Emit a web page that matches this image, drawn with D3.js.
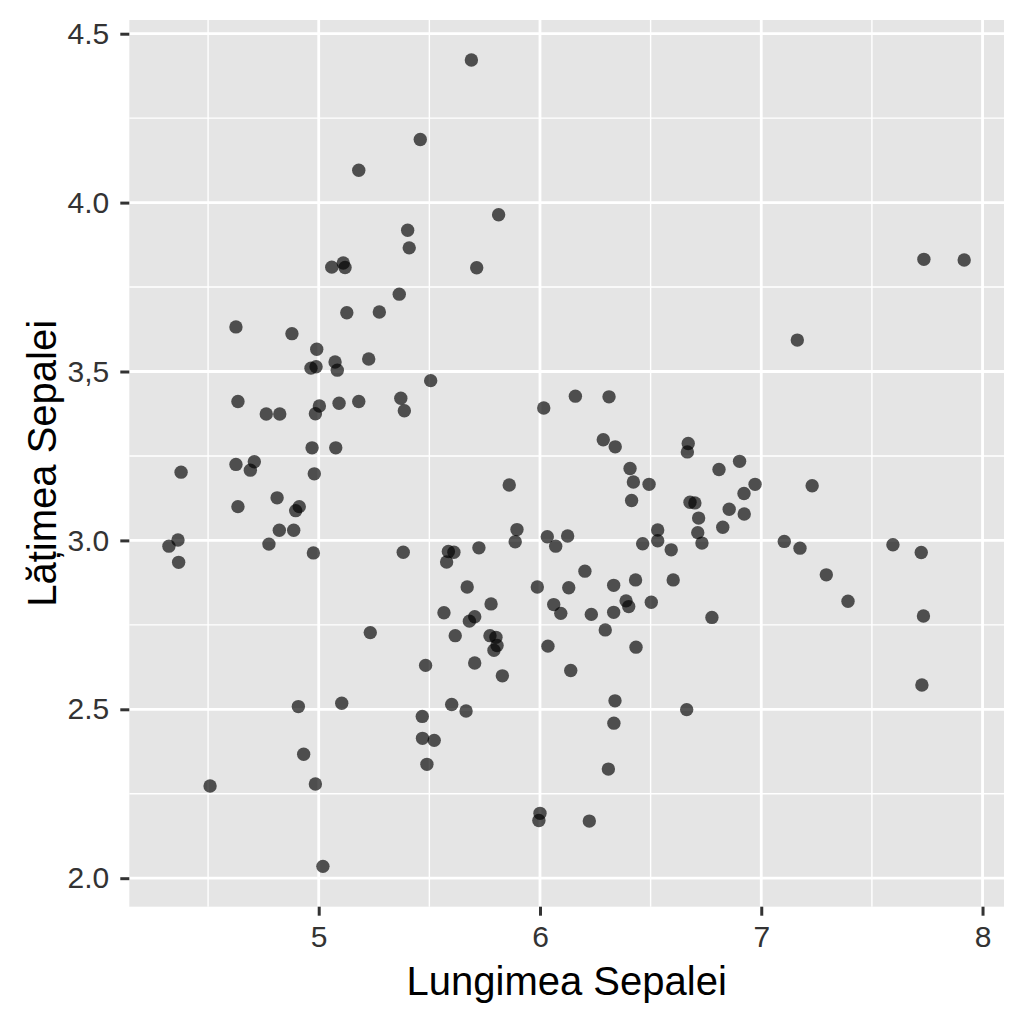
<!DOCTYPE html>
<html lang="ro">
<head>
    <meta charset='utf-8'>
    <title>Lungimea vs Lățimea Sepalei</title>
    <style>
        body { margin: 0; background: #fff; }
        svg { display: block; }
    </style>
</head>
<body>
<svg></svg>
<script src="https://cdn.jsdelivr.net/npm/d3@7"></script>
<script>
    // values (jittered iris sepals)
    const sepalLength = [
        5.459, 5.181, 5.402, 5.409, 5.059, 5.111, 5.119, 5.364, 5.127, 5.274,
        5.690, 5.813, 5.714,
        4.626, 4.879, 4.991, 4.965, 4.988, 5.074, 5.084, 5.226, 5.506, 4.635, 4.763,
        4.824, 5.003, 4.985, 5.092, 5.181, 5.371, 5.387, 4.970, 5.077, 4.378, 4.626,
        4.709, 4.691, 4.980, 4.812, 4.912, 4.896, 4.635, 4.822, 4.887, 4.364, 4.323,
        4.775, 4.976, 5.382, 4.367,
        6.160, 6.312, 6.017, 6.286, 6.340, 6.670, 6.666, 6.407, 6.809, 6.422, 6.493,
        5.861, 6.414, 6.678, 6.700, 6.855, 6.717, 6.826, 5.896, 5.888, 6.033, 6.125,
        6.071, 6.532, 6.532, 6.713, 6.732, 6.464, 6.593, 5.724, 5.586, 5.611, 5.578,
        6.203, 6.432, 6.602, 5.671, 5.988, 6.130, 6.333,
        7.735, 7.917, 7.163, 6.902, 6.972, 6.922, 6.923, 7.230,
        5.233, 4.908, 5.104, 4.932, 4.985, 4.509, 5.019, 5.483, 5.468, 5.469, 5.489,
        5.566, 5.705, 5.681, 5.779, 6.062, 6.094, 6.232, 6.333, 6.389, 6.401, 6.503,
        6.777, 6.295, 5.617, 5.774, 5.801, 5.806, 5.792, 6.036, 6.434, 5.705, 5.830,
        6.139, 5.601, 5.666, 6.339, 6.663, 5.522, 6.334, 6.309, 6.000, 5.995, 6.223,
        7.104, 7.175, 7.294, 7.392, 7.595, 7.723, 7.733, 7.726
    ]

    const sepalWidth = [
        4.187, 4.096, 3.918, 3.866, 3.809, 3.821, 3.808, 3.729, 3.674, 3.676,
        4.422, 3.964, 3.807,
        3.632, 3.612, 3.566, 3.510, 3.514, 3.528, 3.504, 3.537, 3.473, 3.411, 3.374,
        3.374, 3.398, 3.375, 3.406, 3.411, 3.421, 3.384, 3.274, 3.274, 3.202, 3.225,
        3.233, 3.208, 3.197, 3.126, 3.100, 3.088, 3.100, 3.030, 3.030, 3.001, 2.983,
        2.989, 2.963, 2.965, 2.935,
        3.427, 3.425, 3.392, 3.298, 3.277, 3.287, 3.262, 3.213, 3.210, 3.173, 3.166,
        3.164, 3.118, 3.113, 3.111, 3.092, 3.066, 3.039, 3.032, 2.996, 3.011, 3.013,
        2.983, 3.031, 2.999, 3.023, 2.992, 2.990, 2.972, 2.978, 2.967, 2.965, 2.936,
        2.909, 2.883, 2.883, 2.862, 2.862, 2.860, 2.867,
        3.832, 3.830, 3.593, 3.234, 3.166, 3.139, 3.078, 3.162,
        2.727, 2.508, 2.518, 2.367, 2.279, 2.273, 2.035, 2.630, 2.479, 2.414, 2.337,
        2.786, 2.774, 2.761, 2.812, 2.810, 2.784, 2.781, 2.787, 2.821, 2.804, 2.817,
        2.772, 2.735, 2.718, 2.718, 2.713, 2.689, 2.675, 2.687, 2.684, 2.637, 2.599,
        2.615, 2.514, 2.495, 2.525, 2.499, 2.408, 2.459, 2.323, 2.192, 2.171, 2.169,
        2.997, 2.977, 2.898, 2.820, 2.987, 2.964, 2.776, 2.572
    ]

    const xTicks = [5, 6, 7, 8]
    const xMinor = [4.5, 5.5, 6.5, 7.5]
    const yTicks = [2.0, 2.5, 3.0, 3.5, 4.0, 4.5]
    const yTickLabels = ["2.0", "2.5", "3.0", "3,5", "4.0", "4.5"]
    const yMinor = [2.25, 2.75, 3.25, 3.75, 4.25]

    const xTitle = "Lungimea Sepalei"
    const yTitle = "Lățimea Sepalei"

    const width = 1024
    const height = 1024
    const margin = ({top: 20, right: 20, bottom: 117.3, left: 129.3})
    const font = "'Liberation Sans', Arial, sans-serif"

    const data = sepalLength.map((d, i) => ({x: d, y: sepalWidth[i]}))

    const x = d3.scaleLinear()
        .domain([4.144, 8.097])
        .range([margin.left, width - margin.right])

    const y = d3.scaleLinear()
        .domain([1.9156, 4.5406])
        .range([height - margin.bottom, margin.top])

    const svg = d3.select("svg")
        .attr("width", width)
        .attr("height", height)
        .attr("viewBox", [0, 0, width, height])

    svg.append("rect")
        .attr("x", x.range()[0])
        .attr("y", y.range()[1])
        .attr("width", x.range()[1] - x.range()[0])
        .attr("height", y.range()[0] - y.range()[1])
        .attr("fill", "#e5e5e5")

    const grid = svg.append("g").attr("stroke", "#fff")

    grid.selectAll(".xminor")
        .data(xMinor)
        .join("line")
        .attr("x1", d => x(d)).attr("x2", d => x(d))
        .attr("y1", y.range()[0]).attr("y2", y.range()[1])
        .attr("stroke-width", 1.4)

    grid.selectAll(".yminor")
        .data(yMinor)
        .join("line")
        .attr("y1", d => y(d)).attr("y2", d => y(d))
        .attr("x1", x.range()[0]).attr("x2", x.range()[1])
        .attr("stroke-width", 1.4)

    grid.selectAll(".xmajor")
        .data(xTicks)
        .join("line")
        .attr("x1", d => x(d)).attr("x2", d => x(d))
        .attr("y1", y.range()[0]).attr("y2", y.range()[1])
        .attr("stroke-width", 2.8)

    grid.selectAll(".ymajor")
        .data(yTicks)
        .join("line")
        .attr("y1", d => y(d)).attr("y2", d => y(d))
        .attr("x1", x.range()[0]).attr("x2", x.range()[1])
        .attr("stroke-width", 2.8)

    svg.append("g")
        .selectAll("circle")
        .data(data)
        .join("circle")
        .attr("cx", d => x(d.x))
        .attr("cy", d => y(d.y))
        .attr("r", 6.7)
        .attr("fill", "#000")
        .attr("fill-opacity", 0.66)

    const styleAxis = g => {
        g.select(".domain").remove()
        g.selectAll(".tick line").attr("stroke", "#333").attr("stroke-width", 3)
        g.selectAll(".tick text")
            .attr("fill", "#333")
            .attr("font-size", 30)
            .attr("font-family", font)
    }

    svg.append("g")
        .attr("transform", `translate(0,${y.range()[0]})`)
        .call(d3.axisBottom(x).tickValues(xTicks).tickFormat(d => String(d)).tickSize(9).tickPadding(10))
        .call(styleAxis)

    svg.append("g")
        .attr("transform", `translate(${x.range()[0]},0)`)
        .call(d3.axisLeft(y).tickValues(yTicks).tickFormat((d, i) => yTickLabels[i]).tickSize(9).tickPadding(11))
        .call(styleAxis)

    const cx = (x.range()[0] + x.range()[1]) / 2
    const cy = (y.range()[0] + y.range()[1]) / 2

    svg.append("text")
        .attr("x", cx)
        .attr("y", 995)
        .attr("text-anchor", "middle")
        .attr("font-family", font)
        .attr("font-size", 40)
        .attr("fill", "#000")
        .text(xTitle)

    svg.append("text")
        .attr("transform", `translate(56,${cy}) rotate(-90)`)
        .attr("text-anchor", "middle")
        .attr("font-family", font)
        .attr("font-size", 40)
        .attr("fill", "#000")
        .text(yTitle)
</script>
</body>
</html>
